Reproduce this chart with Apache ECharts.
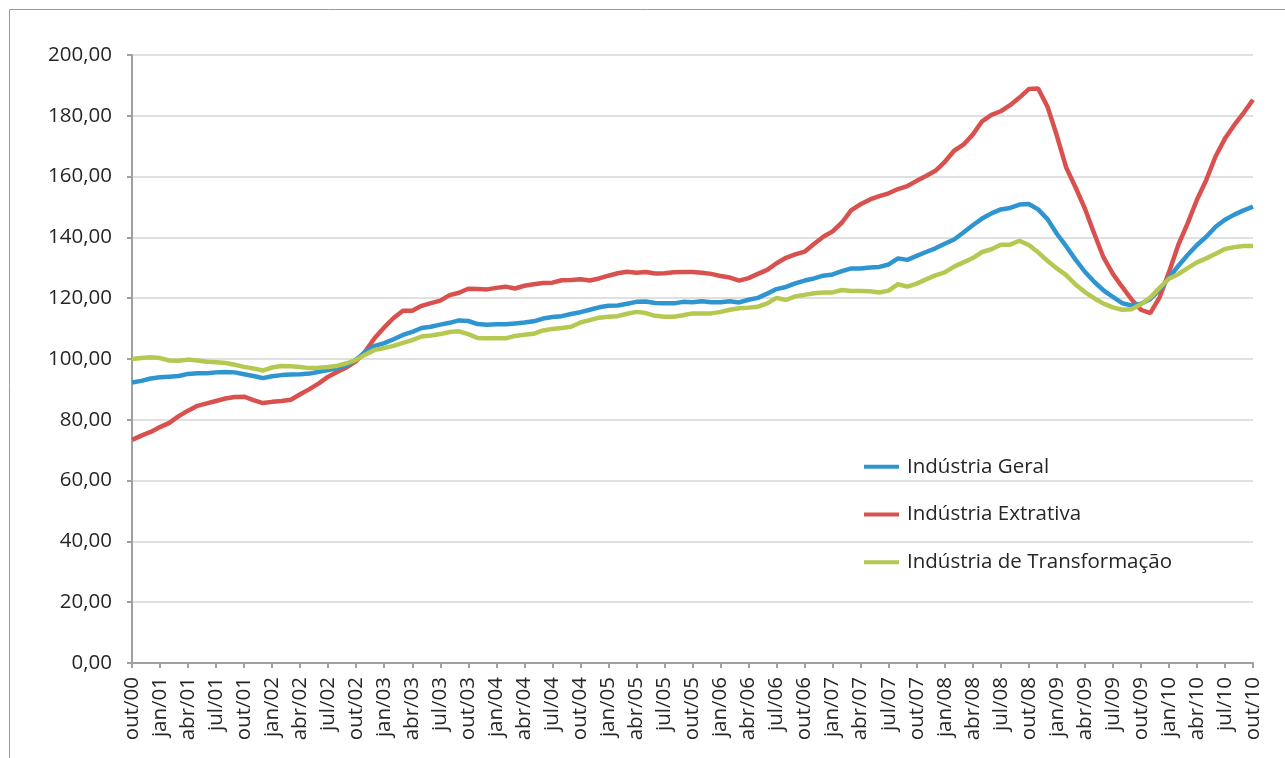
<!DOCTYPE html>
<html>
<head>
<meta charset="utf-8">
<script src="https://cdn.jsdelivr.net/npm/echarts@6/dist/echarts.min.js"></script>
<style>
  html, body { margin: 0; padding: 0; background: #ffffff; }
  #chart { width: 1285px; height: 758px; }
</style>
</head>
<body>
<div id="chart"></div>
<script>
// Month abbreviations and range for the category axis (out/00 .. out/10)
var monthNames = ['jan','fev','mar','abr','mai','jun','jul','ago','set','out','nov','dez'];
var startMonth = 9;   // out
var startYear = 0;    // 2000
var monthCount = 121;

var seriesNames = ['Indústria Geral', 'Indústria Extrativa', 'Indústria de Transformação'];

var geral = [
  92.3,92.8,93.6,94.0,94.2,94.4,95.1,95.3,95.3,95.6,95.7,95.6,95.0,94.4,93.7,94.3,94.7,94.9,95.0,95.2,95.8,96.4,97.0,98.0,99.8,
  102.3,104.3,105.2,106.5,107.9,108.9,110.2,110.6,111.3,111.9,112.7,112.5,111.5,111.3,111.4,111.4,111.7,112.0,112.4,113.3,113.8,114.1,114.8,115.4,116.2,
  117.0,117.5,117.6,118.2,118.8,118.9,118.4,118.3,118.3,118.8,118.7,119.0,118.7,118.7,119.0,118.6,119.5,120.1,121.5,123.0,123.7,124.9,125.8,126.5,127.4,
  127.8,128.9,129.8,129.8,130.1,130.3,131.1,133.1,132.6,133.9,135.2,136.4,137.9,139.3,141.6,144.0,146.2,147.9,149.2,149.7,150.8,151.0,149.2,146.0,141.2,
  137.1,132.7,128.7,125.4,122.6,120.4,118.4,117.6,118.2,119.7,122.9,126.7,130.6,134.2,137.5,140.2,143.5,145.8,147.5,148.9,150.1
];

var extrativa = [
  73.4,74.8,76.0,77.6,79.0,81.2,83.0,84.6,85.4,86.2,87.0,87.5,87.6,86.5,85.5,85.9,86.2,86.6,88.4,90.1,92.0,94.2,95.8,97.3,99.3,
  102.6,107.0,110.4,113.5,115.9,115.9,117.5,118.4,119.2,121.0,121.8,123.1,123.0,122.9,123.4,123.8,123.2,124.1,124.6,125.0,125.1,125.9,126.0,126.2,125.8,
  126.5,127.4,128.2,128.7,128.4,128.6,128.1,128.2,128.5,128.6,128.6,128.4,128.0,127.3,126.8,125.8,126.6,128.0,129.3,131.5,133.3,134.4,135.3,137.8,140.2,
  142.0,144.9,149.0,150.9,152.5,153.6,154.5,155.9,156.9,158.6,160.2,161.9,164.8,168.5,170.5,173.8,178.2,180.3,181.5,183.5,186.0,188.8,189.0,183.0,173.5,
  163.0,156.5,149.5,141.3,133.4,128.0,123.7,119.6,116.2,115.1,120.3,128.5,137.5,144.6,152.4,158.9,166.7,172.5,177.0,181.0,185.3
];

var transformacao = [
  100.0,100.3,100.6,100.3,99.5,99.4,99.8,99.5,99.1,98.9,98.7,98.1,97.4,96.9,96.2,97.2,97.7,97.6,97.4,97.0,97.1,97.4,97.8,98.6,99.7,
  101.5,103.0,103.6,104.3,105.3,106.2,107.4,107.7,108.2,108.9,109.1,108.2,106.9,106.8,106.8,106.8,107.6,108.0,108.3,109.4,109.9,110.2,110.6,112.0,112.8,
  113.6,113.9,114.1,114.9,115.5,115.1,114.2,113.9,113.9,114.4,115.0,115.0,115.0,115.5,116.2,116.7,116.9,117.2,118.3,120.1,119.4,120.6,121.1,121.6,121.9,
  121.9,122.7,122.4,122.4,122.3,121.9,122.5,124.6,123.8,124.8,126.2,127.5,128.5,130.4,131.8,133.2,135.2,136.1,137.6,137.6,138.9,137.5,135.1,132.3,129.8,
  127.6,124.5,122.0,120.0,118.2,117.0,116.2,116.4,118.0,120.2,123.4,126.4,127.9,129.9,131.8,133.1,134.6,136.2,136.8,137.2,137.2
];

var colors = ['#2E95D0', '#D9514E', '#B5C851'];

var categories = [];
for (var k = 0; k < monthCount; k++) {
  var m = (startMonth + k) % 12;
  var y = startYear + Math.floor((startMonth + k) / 12);
  categories.push(monthNames[m] + '/' + (y < 10 ? '0' + y : '' + y));
}

var FONT = '"Open Sans", Lato, sans-serif';

var chart = echarts.init(document.getElementById('chart'), null, { renderer: 'canvas' });

var option = {
  backgroundColor: '#ffffff',
  animation: false,
  color: colors,
  graphic: [{
    type: 'rect',
    silent: true,
    shape: { x: 9.5, y: 9.5, width: 1400, height: 1000 },
    style: { fill: 'none', stroke: '#9a9a9a', lineWidth: 1 }
  }],
  grid: { left: 132, right: 32, top: 55, bottom: 95, containLabel: false },
  legend: {
    orient: 'vertical',
    left: 864,
    top: 456,
    padding: 0,
    itemGap: 26.3,
    itemWidth: 35,
    itemHeight: 4,
    icon: 'rect',
    textStyle: { fontFamily: FONT, fontSize: 20.5, color: '#262626', lineHeight: 21.5, padding: [0, 0, 0, 3] },
    data: seriesNames
  },
  xAxis: {
    type: 'category',
    data: categories,
    boundaryGap: false,
    axisLine: { lineStyle: { color: '#a0a0a0', width: 2 } },
    axisTick: { show: true, interval: 2, length: 5, lineStyle: { color: '#a0a0a0', width: 2 } },
    axisLabel: {
      interval: 2,
      rotate: 90,
      margin: 14,
      fontFamily: FONT,
      fontSize: 20.5,
      color: '#262626'
    },
    splitLine: { show: false }
  },
  yAxis: {
    type: 'value',
    min: 0,
    max: 200,
    interval: 20,
    axisLine: { show: true, lineStyle: { color: '#a0a0a0', width: 2 } },
    axisTick: { show: true, length: 5, lineStyle: { color: '#a0a0a0', width: 2 } },
    axisLabel: {
      margin: 20,
      fontFamily: FONT,
      fontSize: 20.5,
      color: '#262626',
      formatter: function (v) { return v.toFixed(2).replace('.', ','); }
    },
    splitLine: { show: true, lineStyle: { color: '#d6d6d6', width: 1.5 } }
  },
  series: [
    { name: seriesNames[0], type: 'line', data: geral, showSymbol: false, symbol: 'none', lineStyle: { width: 4.5, color: colors[0] }, z: 3 },
    { name: seriesNames[1], type: 'line', data: extrativa, showSymbol: false, symbol: 'none', lineStyle: { width: 4.5, color: colors[1] }, z: 2 },
    { name: seriesNames[2], type: 'line', data: transformacao, showSymbol: false, symbol: 'none', lineStyle: { width: 4.5, color: colors[2] }, z: 4 }
  ]
};

chart.setOption(option);
</script>
</body>
</html>
